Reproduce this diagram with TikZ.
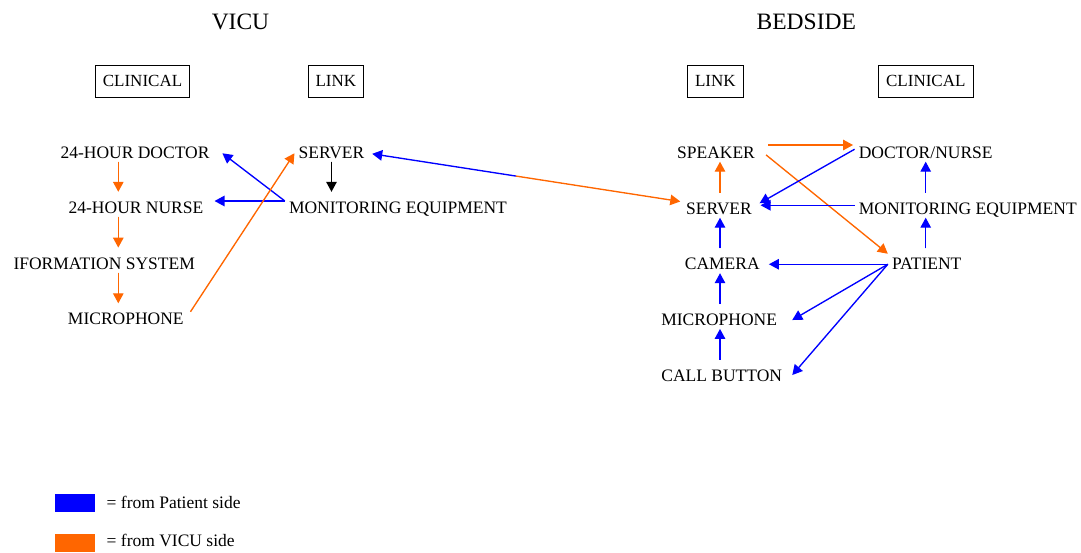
\documentclass[tikz,border=0pt]{standalone}
\usepackage{fontspec}
\setmainfont{Liberation Serif}
\usetikzlibrary{arrows.meta,calc}
\definecolor{vblue}{HTML}{0000FF}
\definecolor{vorange}{HTML}{FF6600}
\begin{document}
\begin{tikzpicture}[x=1pt,y=-1pt,
  lbl/.style={font=\fontsize{17.5}{20}\selectfont, anchor=base, inner xsep=4pt, inner ysep=0pt, text height=21.3pt, text depth=3.2pt},
  ttl/.style={font=\fontsize{23.5}{26}\selectfont, anchor=base, inner sep=0pt},
  hdr/.style={draw, line width=0.9pt, font=\fontsize{17}{20}\selectfont, inner xsep=7.5pt, inner ysep=0pt, minimum height=32.3pt},
  legtxt/.style={font=\fontsize{17.5}{20}\selectfont, anchor=base west, inner sep=0pt},
  legbox/.style={minimum width=40pt, minimum height=17.4pt, inner sep=0pt},
  con/.style={line width=1.35pt, -{Triangle[length=10pt,width=10.5pt]}},
  bl/.style={con, draw=vblue, fill=vblue},
  og/.style={con, draw=vorange, fill=vorange},
  bk/.style={con, draw=black, fill=black}]
\useasboundingbox (0,0) rectangle (1081,552);

% titles and headers
\node[ttl] (vicu) at (240.5,29.5) {VICU};
\node[ttl] (bedside) at (806.3,29.5) {BEDSIDE};
\node[hdr] (hclinL) at (142.5,81.2) {CLINICAL};
\node[hdr] (hlinkL) at (335.8,81.2) {LINK};
\node[hdr] (hlinkR) at (715.3,81.2) {LINK};
\node[hdr] (hclinR) at (925.8,81.2) {CLINICAL};

% VICU nodes
\node[lbl] (doc24) at (135,158.3) {24-HOUR DOCTOR};
\node[lbl] (nurse24) at (136,213.3) {24-HOUR NURSE};
\node[lbl] (info) at (104.2,269.1) {IFORMATION SYSTEM};
\node[lbl] (micL) at (125.8,324.8) {MICROPHONE};
\node[lbl] (serverL) at (331.5,158.3) {SERVER};
\node[lbl] (monL) at (398,213.3) {MONITORING EQUIPMENT};

% BEDSIDE nodes
\node[lbl] (speaker) at (716,158.3) {SPEAKER};
\node[lbl] (serverR) at (719,214.3) {SERVER};
\node[lbl] (camera) at (722.3,269.8) {CAMERA};
\node[lbl] (micR) at (719.2,325.5) {MICROPHONE};
\node[lbl] (callB) at (721.7,381.3) {CALL BUTTON};
\node[lbl] (docnurse) at (925.7,158.3) {DOCTOR/NURSE};
\node[lbl] (monR) at (967.8,214.3) {MONITORING EQUIPMENT};
\node[lbl] (patient) at (926.7,269.8) {PATIENT};

% helper coordinates
\coordinate (lcol) at (118.3,0);
\coordinate (rcol) at (720,0);
\coordinate (monout) at ([yshift=3.25pt]monL.west);
\coordinate (spkout) at ([yshift=4.25pt]speaker.east);
\coordinate (patout) at ([yshift=-3.5pt]patient.west);
\coordinate (sL) at ([yshift=-4pt]serverL.east);
\coordinate (sR) at ([yshift=3.5pt]serverR.west);
\coordinate (mid) at ($(sL)!0.47!(sR)$);

% VICU connectors
\draw[og] (doc24.south -| lcol) -- (nurse24.north -| lcol);
\draw[og] (nurse24.south -| lcol) -- (info.north -| lcol);
\draw[og] (info.south -| lcol) -- (micL.north -| lcol);
\draw[bk] (serverL.south) -- (monL.north -| serverL.south);
\draw[bl, shorten >=7pt] (monout) -- (monout -| nurse24.east);
\draw[bl, shorten >=11pt] (monout) -- ([yshift=2.65pt]doc24.east);
\draw[og, shorten <=4.8pt] (micL.east) -- ([yshift=-4pt]serverL.west);

% server to server
\draw[bl, shorten >=3.7pt] (mid) -- (sL);
\draw[og, shorten >=1.7pt] (mid) -- (sR);

% BEDSIDE connectors
\draw[og] (serverR.north -| rcol) -- (speaker.south -| rcol);
\draw[bl] (camera.north -| rcol) -- (serverR.south -| rcol);
\draw[bl] (micR.north -| rcol) -- (camera.south -| rcol);
\draw[bl] (callB.north -| rcol) -- (micR.south -| rcol);
\draw[og, shorten <=9pt, shorten >=1.5pt] (spkout) -- (spkout -| docnurse.west);
\draw[og, shorten <=9pt] (speaker.east) -- ([yshift=7pt]patient.west);
\draw[bl, shorten >=4pt] (docnurse.west) -- (serverR.east);
\draw[bl, shorten >=4.5pt] (monR.west) -- (monR.west -| serverR.east);
\draw[bl] (monR.north -| docnurse) -- (docnurse.south);
\draw[bl] (patient.north -| docnurse) -- (monR.south -| docnurse);
\draw[bl, shorten >=5pt] (patout) -- (patout -| camera.east);
\draw[bl, shorten >=12.7pt] (patout) -- ([yshift=-10pt]micR.east);
\draw[bl, shorten >=9.2pt] (patout) -- ([yshift=-9.75pt]callB.east);

% legend
\node[legbox, fill=vblue] (legB) at (75,503) {};
\node[legbox, fill=vorange] (legO) at (75,543) {};
\node[legtxt] (legBt) at (106.5,508.3) {= from Patient side};
\node[legtxt] (legOt) at (106.5,546.6) {= from VICU side};
\end{tikzpicture}
\end{document}
